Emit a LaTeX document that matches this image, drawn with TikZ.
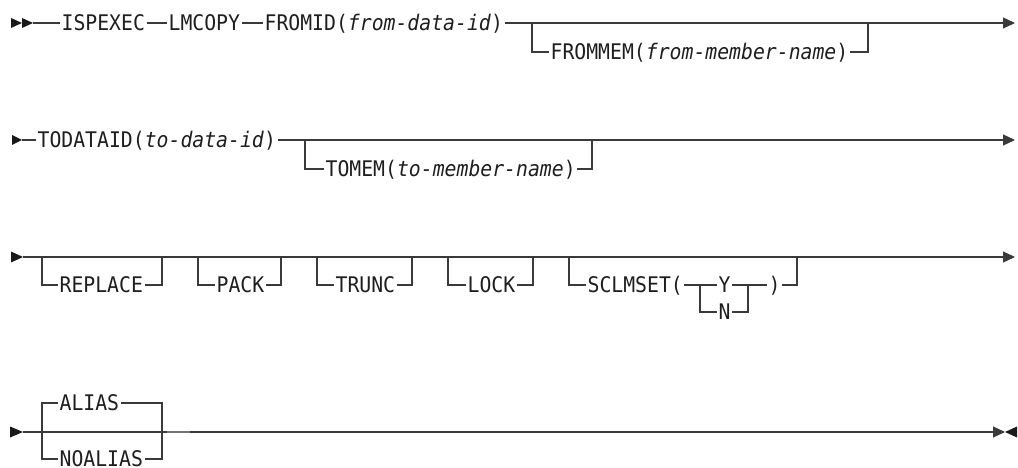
\documentclass[tikz,border=0pt]{standalone}
\usepackage{fontspec}
\newfontfamily\rr[FakeStretch=0.92]{DejaVu Sans Mono}
\usetikzlibrary{arrows.meta}
\definecolor{railc}{HTML}{3A3A3A}
\definecolor{textc}{HTML}{1E1E1E}
\begin{document}
\begin{tikzpicture}[x=1pt,y=-1pt,line width=1.2pt,draw=railc,
  kw/.style={font=\rr\fontsize{21.5}{24}\selectfont,text=textc,inner xsep=1pt,inner ysep=0pt,
    text height=15.6pt,text depth=0pt,anchor=west},
  tip/.style={-{Triangle[length=12pt,width=11pt]}},
  head/.style={fill=black!90,draw=none}]
\useasboundingbox (0,0) rectangle (1018,468);

% ---------- row 1 ----------
\fill[head] (11,18) -- (22,23) -- (11,28) -- cycle;
\fill[head] (22,18) -- (33,23) -- (22,28) -- cycle;
\coordinate (a1) at (33,23);
\node[kw] (isp) at (60,23) {ISPEXEC};
\node[kw] (lmc) at (167,23) {LMCOPY};
\node[kw] (fid) at (263,23) {FROMID(\textit{from-data-id})};
\node[kw] (fmm) at (549,52) {FROMMEM(\textit{from-member-name})};
\coordinate (j1a) at (532,23);
\coordinate (j1b) at (868,23);
\coordinate (e1) at (1015,23);
\draw (a1) -- (isp.west);
\draw (isp.east) -- (lmc.west);
\draw (lmc.east) -- (fid.west);
\draw (fid.east) -- (j1a) -- (j1b);
\draw[tip] (j1b) -- (e1);
\draw (j1a) |- (fmm.west);
\draw (fmm.east) -| (j1b);

% ---------- row 2 ----------
\fill[head] (12,135) -- (22,140) -- (12,145) -- cycle;
\coordinate (a2) at (22,140);
\node[kw] (tod) at (36,140) {TODATAID(\textit{to-data-id})};
\node[kw] (tom) at (324,169) {TOMEM(\textit{to-member-name})};
\coordinate (j2a) at (305,140);
\coordinate (j2b) at (592,140);
\coordinate (e2) at (1015,140);
\draw (a2) -- (tod.west);
\draw (tod.east) -- (j2a) -- (j2b);
\draw[tip] (j2b) -- (e2);
\draw (j2a) |- (tom.west);
\draw (tom.east) -| (j2b);

% ---------- row 3 ----------
\fill[head] (11,251.5) -- (23,257) -- (11,262.5) -- cycle;
\coordinate (a3) at (23,257);
\coordinate (l1) at (42,257);  \coordinate (r1) at (162,257);
\coordinate (l2) at (198,257); \coordinate (r2) at (281,257);
\coordinate (l3) at (317,257); \coordinate (r3) at (412,257);
\coordinate (l4) at (448,257); \coordinate (r4) at (533,257);
\coordinate (l5) at (569,257); \coordinate (r5) at (797,257);
\coordinate (e3) at (1015,257);
\node[kw] (rep) at (58,285) {REPLACE};
\node[kw] (pck) at (215,285) {PACK};
\node[kw] (trc) at (334,285) {TRUNC};
\node[kw] (lck) at (466,285) {LOCK};
\node[kw] (scl) at (586,285) {SCLMSET(};
\node[kw] (yy) at (717,285) {Y};
\node[kw] (nn) at (717,312) {N};
\node[kw] (rp) at (767,285) {)};
\coordinate (yl) at (700,285);
\coordinate (yr) at (748,285);
\draw (a3) -- (l1) -- (r1) -- (l2) -- (r2) -- (l3) -- (r3) -- (l4) -- (r4) -- (l5) -- (r5);
\draw[tip] (r5) -- (e3);
\draw (l1) |- (rep.west); \draw (rep.east) -| (r1);
\draw (l2) |- (pck.west); \draw (pck.east) -| (r2);
\draw (l3) |- (trc.west); \draw (trc.east) -| (r3);
\draw (l4) |- (lck.west); \draw (lck.east) -| (r4);
\draw (l5) |- (scl.west);
\draw (scl.east) -- (yl) -- (yy.west);
\draw (yy.east) -- (yr) -- (rp.west);
\draw (yl) |- (nn.west);
\draw (nn.east) -| (yr);
\draw (rp.east) -| (r5);

% ---------- row 4 ----------
\fill[head] (10,426.5) -- (23,432) -- (10,437.5) -- cycle;
\coordinate (a4) at (23,432);
\coordinate (bl) at (42,432);
\coordinate (br) at (162,432);
\coordinate (e4) at (1005,432);
\node[kw] (al) at (58,403) {ALIAS};
\node[kw] (nal) at (58,459) {NOALIAS};
\draw[tip] (a4) -- (bl) -- (br) -- (e4);
\fill[head] (1017,426.5) -- (1005,432) -- (1017,437.5) -- cycle;
\draw (bl) |- (al.west); \draw (al.east) -| (br);
\draw (bl) |- (nal.west); \draw (nal.east) -| (br);
\draw[line width=2pt,draw=black!55] (167,432) -- (190,432);
\end{tikzpicture}
\end{document}
